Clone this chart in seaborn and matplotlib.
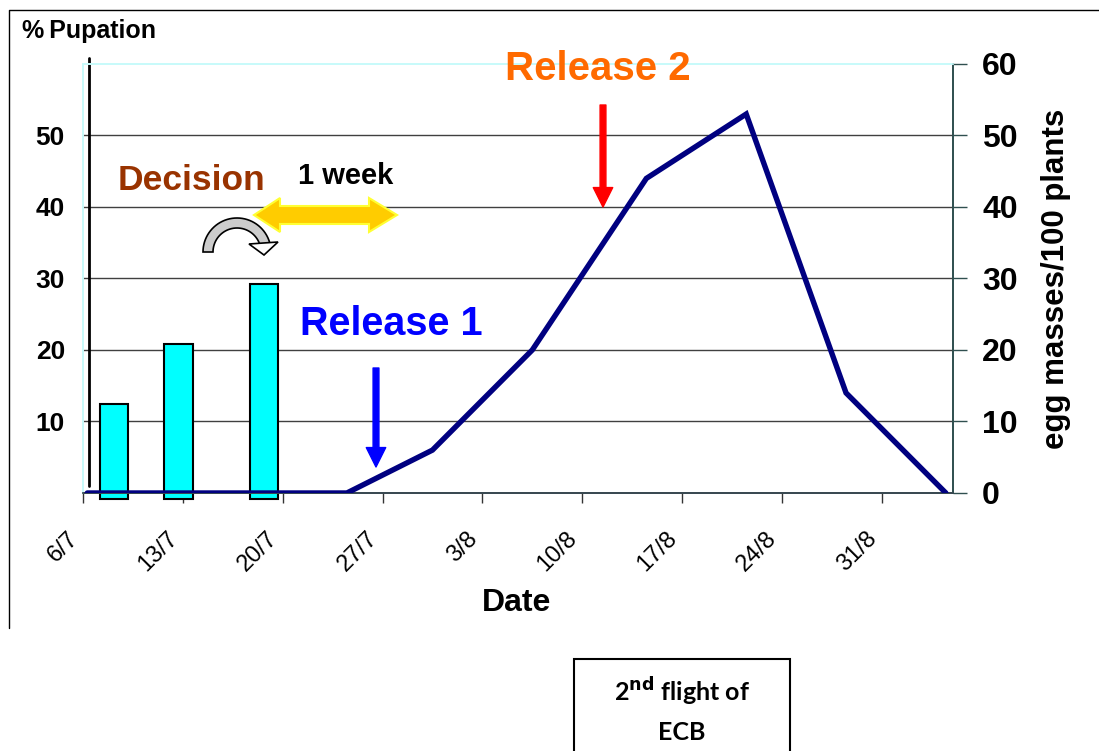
import numpy as np
import pandas as pd
import matplotlib
matplotlib.use("Agg")
import matplotlib.pyplot as plt
import seaborn as sns
from matplotlib.patches import FancyArrowPatch, Polygon, Rectangle
from matplotlib.lines import Line2D
from matplotlib.transforms import ScaledTranslation

# data (days after 6/7)
week_ticks = [0, 7, 14, 21, 28, 35, 42, 49, 56]
week_labels = ["6/7", "13/7", "20/7", "27/7", "3/8", "10/8", "17/8", "24/8", "31/8"]

pupation_day = [2.2, 6.7, 12.7]
pupation_pct = [12.4, 20.8, 29.3]

egg_day = [0.3, 18.5, 24.5, 31.5, 39.5, 46.5, 53.5, 60.5]
egg_masses = [0, 0, 6, 20, 44, 53, 14, 0]

sns.set_theme(style="white")
plt.rcParams["font.family"] = ["Liberation Sans", "DejaVu Sans"]
plt.rcParams["text.color"] = "black"
plt.rcParams["xtick.color"] = "black"
plt.rcParams["ytick.color"] = "black"

W, H = 1099, 751
fig = plt.figure(figsize=(W / 100, H / 100), dpi=100)

def fx(x):
    return x / W

def fy(y):
    return 1 - y / H

def fpts(pts):
    return [(fx(x), fy(y)) for x, y in pts]

ax = fig.add_axes([fx(83), fy(493), (953 - 83) / W, (493 - 64) / H])
ax2 = ax.twinx()

# bars - % pupation
bars = pd.DataFrame({"day": pupation_day, "pct": pupation_pct})
sns.barplot(data=bars, x="day", y="pct", native_scale=True, width=0.44,
            color="#00FFFF", edgecolor="black", linewidth=1.5, saturation=1, ax=ax)
for p in ax.patches:
    p.set_y(-0.8)
    p.set_height(p.get_height() + 0.8)
    p.set_clip_on(False)

# line - egg masses
eggs = pd.DataFrame({"day": egg_day, "eggs": egg_masses})
sns.lineplot(data=eggs, x="day", y="eggs", color="#000080", linewidth=3.9,
             solid_joinstyle="miter", ax=ax2, zorder=5)

for a in (ax, ax2):
    a.set_xlim(0, 61)
    a.set_ylim(0, 60)
    a.set_xlabel("")
    a.set_ylabel("")

ax.set_yticks([10, 20, 30, 40, 50])
ax.set_yticklabels(["10", "20", "30", "40", "50"], fontsize=19, fontweight="bold")
ax.tick_params(axis="y", length=0, pad=13)
ax.yaxis.grid(True, color="#404040", linewidth=1)
ax.set_axisbelow(True)

ax.set_xticks(week_ticks)
ax.set_xticklabels(week_labels, rotation=45, ha="right", va="top",
                   rotation_mode="anchor", fontsize=17)
ax.tick_params(axis="x", direction="out", length=7, width=1, color="#333333",
               bottom=True, pad=18)
for lab in ax.get_xticklabels():
    lab.set_transform(lab.get_transform() + ScaledTranslation(-0.16, 0, fig.dpi_scale_trans))

ax2.set_yticks([0, 10, 20, 30, 40, 50, 60])
ax2.set_yticklabels(["0", "10", "20", "30", "40", "50", "60"], fontsize=23, fontweight="bold")
ax2.tick_params(axis="y", direction="out", length=10, width=1, color="#2F4F4F",
                right=True, pad=11)

for a in (ax, ax2):
    a.spines["top"].set_color("#C8FAFA")
    a.spines["left"].set_color("#C8FAFA")
    a.spines["bottom"].set_color("#37474F")
    a.spines["right"].set_color("#2F4F4F")

# black vertical line near left edge
ax.axvline(0.4, ymin=0.016, ymax=1.014, color="black", linewidth=2, clip_on=False)

# axis titles
fig.text(fx(22), fy(31), "%\u2009Pupation", fontsize=18, fontweight="bold", va="center", ha="left")
fig.text(fx(517), fy(603), "Date", fontsize=23, fontweight="bold", ha="center", va="center")
fig.text(fx(1056), fy(279), "egg masses/100 plants", fontsize=22.5, fontweight="bold",
         rotation=90, ha="center", va="center")

# annotations
fig.text(fx(598), fy(69), "Release 2", fontsize=29, fontweight="bold", color="#FF6A00",
         ha="center", va="center")
fig.text(fx(391), fy(324), "Release 1", fontsize=28.5, fontweight="bold", color="#0000FF",
         ha="center", va="center")
fig.text(fx(191), fy(181), "Decision", fontsize=25.5, fontweight="bold", color="#993300",
         ha="center", va="center")
fig.text(fx(346), fy(176), "1 week", fontsize=21, fontweight="bold", color="black",
         ha="center", va="center")

arrow_style = "simple,head_length=1.4,head_width=1.4,tail_width=0.42"
fig.patches.append(FancyArrowPatch((fx(603), fy(105)), (fx(603), fy(207)),
                                   arrowstyle=arrow_style, mutation_scale=10,
                                   color="#FF0000", transform=fig.transFigure,
                                   shrinkA=0, shrinkB=0))
fig.patches.append(FancyArrowPatch((fx(376), fy(368)), (fx(376), fy(467)),
                                   arrowstyle=arrow_style, mutation_scale=10,
                                   color="#0000FF", transform=fig.transFigure,
                                   shrinkA=0, shrinkB=0))

# yellow double arrow
pts = [(254, 215), (280, 198), (280, 206), (369, 206), (369, 198), (397, 215),
       (369, 232), (369, 224), (280, 224), (280, 232)]
fig.patches.append(Polygon(fpts(pts), closed=True, facecolor="#FFCC00",
                           edgecolor="#FFFF33", linewidth=1.5, transform=fig.transFigure))

# curved grey arrow: grey arc body + white head
cx, cy = 237, 252
ang = np.radians(np.linspace(180, 12, 40))
outer = [(cx + 34 * np.cos(a), cy - 34 * np.sin(a)) for a in ang]
inner = [(cx + 24 * np.cos(a), cy - 24 * np.sin(a)) for a in ang[::-1]]
fig.patches.append(Polygon(fpts(outer + inner), closed=True, facecolor="#CCCCCC",
                           edgecolor="black", linewidth=1.2, transform=fig.transFigure))
head = [(249, 244), (278, 242), (264, 255)]
fig.patches.append(Polygon(fpts(head), closed=True, facecolor="white",
                           edgecolor="black", linewidth=1.2, transform=fig.transFigure))

# chart frame (top and left edges)
fig.lines.append(Line2D([fx(9), fx(9), 1], [fy(628), fy(10), fy(10)], color="black",
                        linewidth=1, transform=fig.transFigure))

# text box at bottom
fig.patches.append(Rectangle((fx(574), fy(770)), (790 - 574) / W, (770 - 659) / H,
                             facecolor="white", edgecolor="black", linewidth=1.5,
                             transform=fig.transFigure, clip_on=False))
fig.text(fx(682), fy(692), r"2$^{\mathbf{nd}}$ flight of", fontsize=18, fontweight="bold",
         family="Lato", ha="center", va="center")
fig.text(fx(682), fy(732), "ECB", fontsize=18, fontweight="bold", family="Lato",
         ha="center", va="center")

plt.savefig("out.png", dpi=100)
